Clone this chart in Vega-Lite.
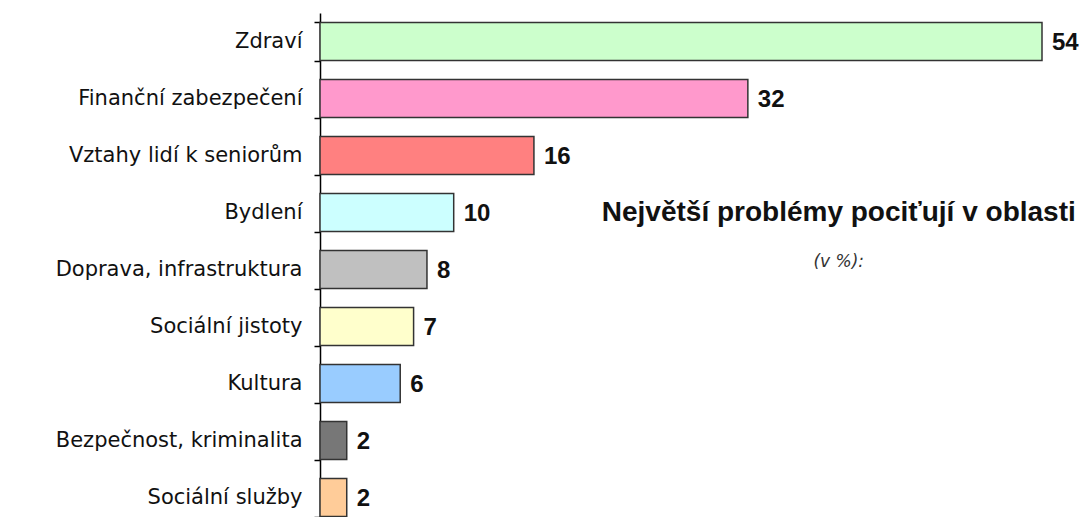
{
  "$schema": "https://vega.github.io/schema/vega-lite/v6.json",
  "width": 722,
  "height": 513,
  "padding": {"left": 320, "top": 13, "right": 42, "bottom": 0},
  "autosize": {"type": "none"},
  "background": "white",
  "config": {"view": {"stroke": null}},
  "datasets": {
    "oblasti": [
      {"oblast": "Zdraví", "hodnota": 54},
      {"oblast": "Finanční zabezpečení", "hodnota": 32},
      {"oblast": "Vztahy lidí k seniorům", "hodnota": 16},
      {"oblast": "Bydlení", "hodnota": 10},
      {"oblast": "Doprava, infrastruktura", "hodnota": 8},
      {"oblast": "Sociální jistoty", "hodnota": 7},
      {"oblast": "Kultura", "hodnota": 6},
      {"oblast": "Bezpečnost, kriminalita", "hodnota": 2},
      {"oblast": "Sociální služby", "hodnota": 2}
    ],
    "nadpis": [
      {"text": "Největší problémy pociťují v oblasti", "podtitul": "(v %):", "x": 38.8, "oblast": "Bydlení"}
    ]
  },
  "data": {"name": "oblasti"},
  "encoding": {
    "y": {
      "field": "oblast",
      "type": "nominal",
      "sort": null,
      "scale": {"domain": ["Zdraví", "Finanční zabezpečení", "Vztahy lidí k seniorům", "Bydlení", "Doprava, infrastruktura", "Sociální jistoty", "Kultura", "Bezpečnost, kriminalita", "Sociální služby"], "paddingInner": 0.33, "paddingOuter": 0.165},
      "axis": {
        "title": null,
        "domainColor": "#000",
        "domainWidth": 1.5,
        "tickColor": "#000",
        "tickWidth": 1.5,
        "tickSize": 6,
        "tickBand": "extent",
        "labelFont": "DejaVu Sans",
        "labelFontSize": 21,
        "labelColor": "#111",
        "labelPadding": 12,
        "labelLimit": 400
      }
    }
  },
  "layer": [
    {
      "mark": {"type": "bar", "stroke": "#333", "strokeWidth": 1.5},
      "encoding": {
        "x": {"field": "hodnota", "type": "quantitative", "scale": {"domain": [0, 54], "nice": false}, "axis": null},
        "color": {
          "field": "oblast",
          "type": "nominal",
          "legend": null,
          "scale": {
            "domain": ["Zdraví", "Finanční zabezpečení", "Vztahy lidí k seniorům", "Bydlení", "Doprava, infrastruktura", "Sociální jistoty", "Kultura", "Bezpečnost, kriminalita", "Sociální služby"],
            "range": ["#ccffcc", "#ff99cc", "#ff8080", "#ccffff", "#c0c0c0", "#ffffcc", "#99ccff", "#777777", "#ffcc99"]
          }
        }
      }
    },
    {
      "mark": {"type": "text", "align": "left", "baseline": "middle", "dx": 10, "dy": 1, "font": "Liberation Sans", "fontWeight": "bold", "fontSize": 24, "color": "#111"},
      "encoding": {
        "x": {"field": "hodnota", "type": "quantitative"},
        "text": {"field": "hodnota", "type": "quantitative"}
      }
    },
    {
      "data": {"name": "nadpis"},
      "mark": {"type": "text", "align": "center", "baseline": "middle", "font": "Liberation Sans", "fontWeight": "bold", "fontSize": 28, "color": "#111"},
      "encoding": {
        "x": {"field": "x", "type": "quantitative"},
        "text": {"field": "text"}
      }
    },
    {
      "data": {"name": "nadpis"},
      "mark": {"type": "text", "align": "center", "baseline": "middle", "dy": 49, "font": "DejaVu Sans", "fontStyle": "italic", "fontSize": 17, "color": "#333"},
      "encoding": {
        "x": {"field": "x", "type": "quantitative"},
        "text": {"field": "podtitul"}
      }
    }
  ]
}
